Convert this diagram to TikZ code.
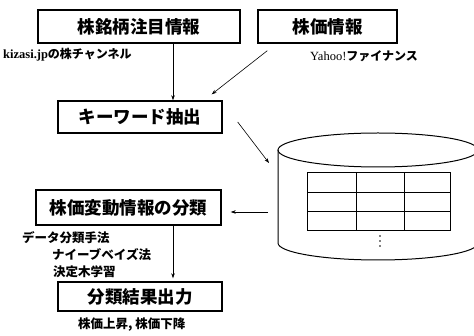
\documentclass[tikz,border=0pt]{standalone}
\usepackage{fontspec}
\setmainfont{Liberation Serif}
\newfontfamily\jp{Noto Sans CJK JP}
\usetikzlibrary{arrows.meta,calc}
\tikzset{
  box/.style={draw, line width=1.4pt, inner sep=0pt, font=\jp\bfseries\fontsize{17.5}{18}\selectfont},
  lbl/.style={anchor=west, inner sep=0pt, font=\jp\bfseries\fontsize{12.5}{13}\selectfont},
  arr/.style={-{Stealth[length=5pt,width=3.5pt]}, line width=0.6pt},
  cyl/.style={line width=1pt},
  grid/.style={line width=1pt}
}
\begin{document}
\begin{tikzpicture}[x=1pt,y=-1pt]
\useasboundingbox (0,0) rectangle (474,336);
\clip (0,0) rectangle (474,336);
% boxes
\node[box, minimum width=202pt, minimum height=33pt] (b1) at (139,26.5) {株銘柄注目情報};
\node[box, minimum width=139pt, minimum height=33pt] (b2) at (327.5,26.5) {株価情報};
\node[box, minimum width=164pt, minimum height=32pt] (b3) at (140,117) {キーワード抽出};
\node[box, minimum width=185pt, minimum height=35pt] (b4) at (128.5,207.5) {株価変動情報の分類};
\node[box, minimum width=164pt, minimum height=29pt] (b5) at (140,296.5) {分類結果出力};
% labels
\node[lbl, font=\bfseries\fontsize{12.5}{13}\selectfont] (l1) at (3,55) {kizasi.jp{\jp\bfseries\fontsize{12}{13}\selectfont の株チャンネル}};
\node[lbl, font=\fontsize{12.5}{13}\selectfont] (l2) at (310,56) {Yahoo!{\jp\bfseries\fontsize{12}{13}\selectfont ファイナンス}};
\node[lbl] (l3) at (22,238) {データ分類手法};
\node[lbl] (l4) at (52,255) {ナイーブベイズ法};
\node[lbl] (l5) at (53,272) {決定木学習};
\node[lbl] (l6) at (78,325) {株価上昇, 株価下降};
% database cylinder
\draw[cyl] (278,150) -- (278,243) arc[start angle=180, end angle=0, x radius=100, y radius=17] -- (478,150);
\draw[cyl] (378,150) ellipse [x radius=100, y radius=17];
\draw[grid] (307,173) rectangle (450,231);
\draw[grid] (307,193) -- (450,193) (307,212) -- (450,212) (356,173) -- (356,231) (404,173) -- (404,231);
\fill (380,236) circle (0.9) (380,241) circle (0.9) (380,246) circle (0.9);
\coordinate (cylin) at (269,163);
\coordinate (cylout) at (268,212);
\coordinate (colx) at (173,0);
% connectors
\draw[arr] (b1.south -| colx) -- (b3.north -| colx);
\draw[arr] ($(b2.south west)+(10,7)$) -- ($(b3.north east)+(-11,-6)$);
\draw[arr] ($(b3.east)+(15,5)$) -- (cylin);
\draw[arr] (cylout) -- ([xshift=9pt]b4.east |- cylout);
\draw[arr] (b4.south -| colx) -- ([yshift=3pt]b5.north -| colx);
\end{tikzpicture}
\end{document}
